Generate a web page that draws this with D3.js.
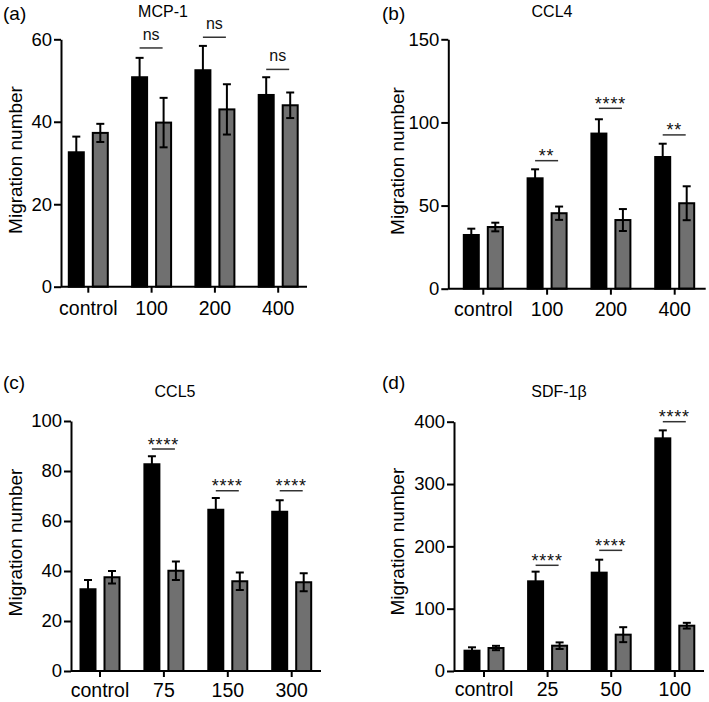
<!DOCTYPE html>
<html>
<head>
<meta charset="utf-8">
<script src="https://cdn.jsdelivr.net/npm/d3@7"></script>
<style>
  html, body { margin: 0; padding: 0; background: #fff; }
  svg { display: block; font-family: "Liberation Sans", Arial, Helvetica, sans-serif; }
</style>
</head>
<body>
<svg id="chart" width="709" height="702"></svg>
<script>
// ---------------- DATA ----------------
const panelLetters = ["(a)", "(b)", "(c)", "(d)"];
const panelTitles = ["MCP-1", "CCL4", "CCL5", "SDF-1β"];
const yAxisLabel = "Migration number";

const categoriesA = ["control", "100", "200", "400"];
const categoriesB = ["control", "100", "200", "400"];
const categoriesC = ["control", "75", "150", "300"];
const categoriesD = ["control", "25", "50", "100"];

const blackMeansA = [32.6, 50.8, 52.5, 46.5];
const blackErrA   = [3.8, 4.7, 5.9, 4.3];
const grayMeansA  = [37.3, 39.8, 43.0, 44.0];
const grayErrA    = [2.2, 6.0, 6.1, 3.1];

const blackMeansB = [32.3, 66.4, 93.3, 79.2];
const blackErrB   = [3.8, 5.4, 8.6, 8.0];
const grayMeansB  = [37.1, 45.4, 41.3, 51.4];
const grayErrB    = [2.6, 4.0, 6.6, 10.2];

const blackMeansC = [32.7, 82.7, 64.5, 63.7];
const blackErrC   = [3.7, 3.2, 4.7, 4.6];
const grayMeansC  = [37.5, 40.1, 35.9, 35.5];
const grayErrC    = [2.5, 3.7, 3.5, 3.6];

const blackMeansD = [32.6, 143.9, 157.8, 373.3];
const blackErrD   = [5.4, 15.5, 20.8, 12.8];
const grayMeansD  = [36.9, 40.6, 58.3, 72.7];
const grayErrD    = [3.5, 5.3, 12.0, 4.6];

const sigTextA = ["", "ns", "ns", "ns"];
const sigLevelA = [null, 57.9, 60.5, 52.7];
const sigTextB = ["", "**", "****", "**"];
const sigLevelB = [null, 77, 108.5, 92.5];
const sigTextC = ["", "****", "****", "****"];
const sigLevelC = [null, 88.8, 72.1, 72.1];
const sigTextD = ["", "****", "****", "****"];
const sigLevelD = [null, 169.6, 193.6, 400];

const yTicksA = [0, 20, 40, 60];
const yTicksB = [0, 50, 100, 150];
const yTicksC = [0, 20, 40, 60, 80, 100];
const yTicksD = [0, 100, 200, 300, 400];

// ---------------- LAYOUT ----------------
const layouts = [
  { axisX: 61,    xEnd: 307,   yTop: 39.3,  y0: 286.7, c0: 88.3,  step: 63.3,
    titleX: 163, titleY: 16.7, letterX: 3,   letterY: 19.5, labX: 22,  labY: 160,   catY: 315 },
  { axisX: 448.3, xEnd: 705.7, yTop: 39.3,  y0: 288.7, c0: 483.3, step: 63.8,
    titleX: 552, titleY: 17.3, letterX: 382, letterY: 20,   labX: 404, labY: 161,   catY: 316.5 },
  { axisX: 71,    xEnd: 321,   yTop: 421,   y0: 671,   c0: 100,   step: 63.9,
    titleX: 175, titleY: 397.3, letterX: 3,  letterY: 389,  labX: 22,  labY: 542.5, catY: 696.5 },
  { axisX: 454,   xEnd: 704,   yTop: 421.7, y0: 671,   c0: 484,   step: 63.6,
    titleX: 559, titleY: 397.3, letterX: 382, letterY: 389, labX: 404, labY: 541.7, catY: 696 }
];

const panels = [
  { cats: categoriesA, bm: blackMeansA, be: blackErrA, gm: grayMeansA, ge: grayErrA, sig: sigTextA, lvl: sigLevelA, ticks: yTicksA },
  { cats: categoriesB, bm: blackMeansB, be: blackErrB, gm: grayMeansB, ge: grayErrB, sig: sigTextB, lvl: sigLevelB, ticks: yTicksB },
  { cats: categoriesC, bm: blackMeansC, be: blackErrC, gm: grayMeansC, ge: grayErrC, sig: sigTextC, lvl: sigLevelC, ticks: yTicksC },
  { cats: categoriesD, bm: blackMeansD, be: blackErrD, gm: grayMeansD, ge: grayErrD, sig: sigTextD, lvl: sigLevelD, ticks: yTicksD }
];

const svg = d3.select("#chart");
const seriesKeys = ["black", "gray"];
const fills = { black: "#000000", gray: "#707070" };
const FONT = "'Liberation Sans', Arial, sans-serif";

panels.forEach((p, i) => {
  const L = layouts[i];
  const g = svg.append("g");

  const y = d3.scaleLinear()
    .domain([0, d3.max(p.ticks)])
    .range([L.y0, L.yTop]);

  const x = d3.scaleBand()
    .domain(p.cats)
    .range([L.c0 - L.step / 2, L.c0 - L.step / 2 + L.step * p.cats.length])
    .paddingInner(0).paddingOuter(0);

  const xs = d3.scaleBand()
    .domain(seriesKeys)
    .range([-19.5, 19.5])
    .paddingInner(0.375);

  const rows = [];
  p.cats.forEach((c, j) => {
    rows.push({ cat: c, key: "black", v: p.bm[j], e: p.be[j] });
    rows.push({ cat: c, key: "gray", v: p.gm[j], e: p.ge[j] });
  });
  const cx = d => x(d.cat) + x.bandwidth() / 2;

  // bars
  g.selectAll("rect.bar").data(rows).join("rect")
    .attr("class", "bar")
    .attr("x", d => cx(d) + xs(d.key))
    .attr("width", xs.bandwidth())
    .attr("y", d => y(d.v))
    .attr("height", d => y(0) - y(d.v))
    .attr("fill", d => fills[d.key])
    .attr("stroke", "#000")
    .attr("stroke-width", 2);

  // error bars
  const eb = g.selectAll("g.err").data(rows).join("g").attr("class", "err")
    .attr("stroke", "#000").attr("stroke-width", 2);
  const ecx = d => cx(d) + xs(d.key) + xs.bandwidth() / 2;
  eb.append("line")
    .attr("x1", ecx).attr("x2", ecx)
    .attr("y1", d => y(d.v - d.e)).attr("y2", d => y(d.v + d.e));
  eb.append("line")
    .attr("x1", d => ecx(d) - 4).attr("x2", d => ecx(d) + 4)
    .attr("y1", d => y(d.v + d.e)).attr("y2", d => y(d.v + d.e));
  eb.append("line")
    .attr("x1", d => ecx(d) - 4).attr("x2", d => ecx(d) + 4)
    .attr("y1", d => y(d.v - d.e)).attr("y2", d => y(d.v - d.e));

  // y axis
  const yAx = g.append("g")
    .attr("transform", `translate(${L.axisX},0)`)
    .call(d3.axisLeft(y).tickValues(p.ticks).tickSize(7).tickSizeOuter(0).tickPadding(2).tickFormat(d3.format("d")));
  yAx.select(".domain").attr("stroke-width", 2);
  yAx.selectAll(".tick line").attr("stroke-width", 2);
  yAx.selectAll(".tick text").attr("font-size", 18.5).attr("fill", "#000")
    .attr("font-family", FONT);

  // x axis
  const xAx = g.append("g")
    .attr("transform", `translate(0,${L.y0})`)
    .call(d3.axisBottom(x).tickSize(6).tickSizeOuter(0).tickPadding(0));
  xAx.select(".domain").attr("d", `M${L.axisX},0H${L.xEnd}`).attr("stroke-width", 2);
  xAx.selectAll(".tick line").attr("stroke-width", 2);
  xAx.selectAll(".tick text").attr("font-size", 19.5).attr("fill", "#000")
    .attr("dy", null).attr("y", L.catY - L.y0)
    .attr("font-family", FONT);

  // significance annotations
  const sigRows = p.cats.map((c, j) => ({ cat: c, t: p.sig[j], lvl: p.lvl[j] })).filter(d => d.t);
  const sg = g.selectAll("g.sig").data(sigRows).join("g").attr("class", "sig");
  sg.append("line")
    .attr("x1", d => x(d.cat) + x.bandwidth() / 2 - 12)
    .attr("x2", d => x(d.cat) + x.bandwidth() / 2 + 11)
    .attr("y1", d => y(d.lvl)).attr("y2", d => y(d.lvl))
    .attr("stroke", "#333").attr("stroke-width", 1.5);
  sg.append("text")
    .attr("x", d => x(d.cat) + x.bandwidth() / 2 - 0.5)
    .attr("y", d => y(d.lvl) + (d.t === "ns" ? -8 : 1.5))
    .attr("text-anchor", "middle")
    .attr("font-size", d => d.t === "ns" ? 16 : 18)
    .attr("letter-spacing", d => d.t === "ns" ? 0 : 0.8)
    .attr("fill", "#111")
    .text(d => d.t);

  // title, letter, y label
  g.append("text").attr("x", L.titleX).attr("y", L.titleY)
    .attr("text-anchor", "middle").attr("font-size", 16).attr("fill", "#000")
    .text(panelTitles[i]);
  g.append("text").attr("x", L.letterX).attr("y", L.letterY)
    .attr("font-size", 19).attr("fill", "#000")
    .text(panelLetters[i]);
  g.append("text")
    .attr("transform", `translate(${L.labX},${L.labY}) rotate(-90)`)
    .attr("text-anchor", "middle").attr("font-size", 19).attr("fill", "#000")
    .text(yAxisLabel);
});
</script>
</body>
</html>
